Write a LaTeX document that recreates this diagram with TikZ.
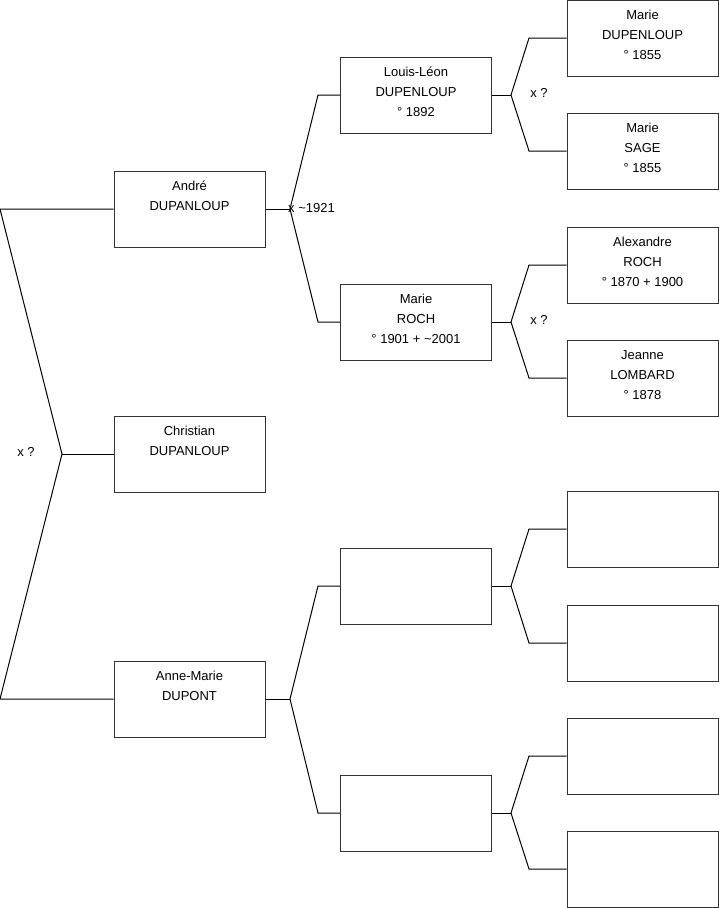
\documentclass[tikz,border=0pt]{standalone}
\usepackage{fontspec}
\setmainfont{Liberation Sans}
\tikzset{
  person/.style={draw=black!80, line width=1pt, minimum width=151pt, minimum height=76pt,
    inner sep=0pt, align=center, font=\fontsize{13}{20}\selectfont},
  link/.style={line width=1pt},
  union/.style={inner sep=0pt, font=\fontsize{13}{14}\selectfont},
}
\begin{document}
\begin{tikzpicture}[x=1pt,y=-1pt]
    \useasboundingbox (0,0) rectangle (719,908);

    % Children
    \node[person] (andre) at (189.5,209) {André\\DUPANLOUP\\\strut};
    \node[person] (christian) at (189.5,454) {Christian\\DUPANLOUP\\\strut};
    \node[person] (annemarie) at (189.5,699) {Anne-Marie\\DUPONT\\\strut};

    % Parents
    \node[person] (louisleon) at (416,95) {Louis-Léon\\DUPENLOUP\\° 1892\strut};
    \node[person] (marieroch) at (416,322) {Marie\\ROCH\\° 1901 + \textasciitilde 2001\strut};
    \node[person] (fatherB) at (416,586) {};
    \node[person] (motherB) at (416,813) {};

    % Grandparents
    \node[person] (mariedup) at (642.5,38) {Marie\\DUPENLOUP\\° 1855\strut};
    \node[person] (mariesage) at (642.5,151) {Marie\\SAGE\\° 1855\strut};
    \node[person] (alexandre) at (642.5,265) {Alexandre\\ROCH\\° 1870 + 1900\strut};
    \node[person] (jeanne) at (642.5,378) {Jeanne\\LOMBARD\\° 1878\strut};
    \node[person] (gpC) at (642.5,529) {};
    \node[person] (gmC) at (642.5,643) {};
    \node[person] (gpD) at (642.5,756) {};
    \node[person] (gmD) at (642.5,869) {};

    % Siblings fork
    \coordinate (top0) at (0,209);
    \coordinate (bot0) at (0,699);
    \coordinate (fork0) at (62,454);
    \draw[link] (andre.west) -- (top0) -- (fork0) -- (bot0) -- (annemarie.west);
    \draw[link] (fork0) -- (christian.west);
    \node[union] (u0) at (26,452) {x ?};

    % Parents forks
    \coordinate (fork1) at (290,209);
    \coordinate (up1) at (318,95);
    \coordinate (dn1) at (318,322);
    \draw[link] (andre.east) -- (fork1);
    \draw[link] (louisleon.west) -- (up1) -- (fork1) -- (dn1) -- (marieroch.west);
    \node[union, anchor=west] (u1) at (288,208) {x \textasciitilde 1921};

    \coordinate (fork2) at (290,699);
    \coordinate (up2) at (318,586);
    \coordinate (dn2) at (318,813);
    \draw[link] (annemarie.east) -- (fork2);
    \draw[link] (fatherB.west) -- (up2) -- (fork2) -- (dn2) -- (motherB.west);

    % Grandparents forks
    \coordinate (fork3) at (511,95);
    \coordinate (up3) at (529,38);
    \coordinate (dn3) at (529,151);
    \draw[link] (louisleon.east) -- (fork3);
    \draw[link] (mariedup.west) -- (up3) -- (fork3) -- (dn3) -- (mariesage.west);
    \node[union] (u3) at (539,93) {x ?};

    \coordinate (fork4) at (511,322);
    \coordinate (up4) at (529,265);
    \coordinate (dn4) at (529,378);
    \draw[link] (marieroch.east) -- (fork4);
    \draw[link] (alexandre.west) -- (up4) -- (fork4) -- (dn4) -- (jeanne.west);
    \node[union] (u4) at (539,320) {x ?};

    \coordinate (fork5) at (511,586);
    \coordinate (up5) at (529,529);
    \coordinate (dn5) at (529,643);
    \draw[link] (fatherB.east) -- (fork5);
    \draw[link] (gpC.west) -- (up5) -- (fork5) -- (dn5) -- (gmC.west);

    \coordinate (fork6) at (511,813);
    \coordinate (up6) at (529,756);
    \coordinate (dn6) at (529,869);
    \draw[link] (motherB.east) -- (fork6);
    \draw[link] (gpD.west) -- (up6) -- (fork6) -- (dn6) -- (gmD.west);
\end{tikzpicture}
\end{document}
